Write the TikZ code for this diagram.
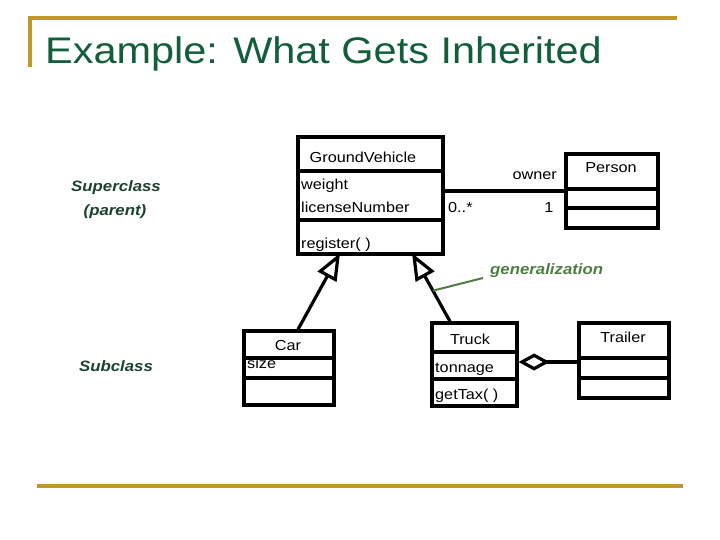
\documentclass[tikz,border=0pt]{standalone}
\usepackage{fontspec}
\setmainfont{Liberation Sans}
\newfontfamily\bxf[FakeStretch=1.12]{Liberation Sans}
\newfontfamily\ttlf[FakeStretch=1.12]{Liberation Sans}
\usetikzlibrary{arrows.meta,calc}
\definecolor{gold}{RGB}{192,152,40}
\definecolor{ttlgreen}{RGB}{18,94,58}
\definecolor{lblgreen}{RGB}{28,66,48}
\definecolor{gengreen}{RGB}{78,125,66}
\begin{document}
\begin{tikzpicture}[x=1pt,y=-1pt,
  cls/.style={draw=black,line width=3.2pt,rectangle,inner sep=0pt},
  div/.style={draw=black,line width=3.2pt},
  txt/.style={inner sep=0pt,font=\bxf\fontsize{14.5}{16}\selectfont,text=black},
  side/.style={inner sep=0pt,font=\bxf\fontsize{15}{17}\selectfont\bfseries\itshape,text=lblgreen},
  gen/.style={line width=3.2pt,-{Triangle[open,length=27pt,width=21pt]}},
  agg/.style={line width=3.2pt,{Diamond[open,length=31pt,width=17pt]}-},
  assoc/.style={line width=3.2pt},
  goldline/.style={draw=gold,line width=3.2pt}
]
\useasboundingbox (0,0) rectangle (720,540);
\fill[white] (0,0) rectangle (720,540);

% frame lines
\draw[goldline] (30,67) -- (30,18) -- (677,18);
\draw[goldline] (37,486) -- (683,486);

% title
\node[inner sep=0pt,anchor=base west,text=ttlgreen,font=\ttlf\fontsize{37}{42}\selectfont] (title) at (45,64) {Example: What Gets Inherited};

% side labels
\node[side,anchor=base] (sup) at (116,192) {Superclass};
\node[side,anchor=base] (par) at (115,215) {(parent)};
\node[side,anchor=base] (sub) at (116,371) {Subclass};

% GroundVehicle
\node[cls,minimum width=145pt,minimum height=117pt] (gv) at (370.5,195.5) {};
\draw[div] (gv.west |- 0,171) -- (gv.east |- 0,171);
\draw[div] (gv.west |- 0,220) -- (gv.east |- 0,220);
\node[txt,anchor=base] (gvn) at (363,163) {GroundVehicle};
\node[txt,anchor=base west] (gvw) at (301,190) {weight};
\node[txt,anchor=base west] (gvl) at (301,213) {licenseNumber};
\node[txt,anchor=base west] (gvr) at (301,248) {register( )};

% Person
\node[cls,minimum width=92pt,minimum height=74pt] (person) at (612,191) {};
\draw[div] (person.west |- 0,189) -- (person.east |- 0,189);
\draw[div] (person.west |- 0,208) -- (person.east |- 0,208);
\node[txt,anchor=base] (pn) at (611,173) {Person};

% association
\draw[assoc] (gv.east |- person.west) -- (person.west);
\node[txt,anchor=base west] (mult1) at (448,212) {0..*};
\node[txt,anchor=base] (mult2) at (549,212) {1};
\node[txt,anchor=base east] (own) at (557,180) {owner};

% Car
\node[cls,minimum width=90pt,minimum height=74pt] (car) at (289,368) {};
\draw[div] (car.west |- 0,358) -- (car.east |- 0,358);
\draw[div] (car.west |- 0,378) -- (car.east |- 0,378);
\node[txt,anchor=base] (carn) at (288,350) {Car};
\node[txt,anchor=base west] (cars) at (247,368) {size};

% Truck
\node[cls,minimum width=85pt,minimum height=83pt] (truck) at (474.5,364.5) {};
\draw[div] (truck.west |- 0,352) -- (truck.east |- 0,352);
\draw[div] (truck.west |- 0,379) -- (truck.east |- 0,379);
\node[txt,anchor=base] (trn) at (470,344) {Truck};
\node[txt,anchor=base west] (trt) at (435,372) {tonnage};
\node[txt,anchor=base west] (trg) at (435,399) {getTax( )};

% Trailer
\node[cls,minimum width=90pt,minimum height=75pt] (trailer) at (624,360.5) {};
\draw[div] (trailer.west |- 0,358) -- (trailer.east |- 0,358);
\draw[div] (trailer.west |- 0,378) -- (trailer.east |- 0,378);
\node[txt,anchor=base] (tln) at (623,342) {Trailer};

% aggregation
\draw[agg] ([yshift=2.5pt]truck.east) -- ([yshift=2.5pt]truck.east -| trailer.west);

% generalizations
\coordinate (cS) at ([xshift=9pt]car.north);
\coordinate (cE) at ([xshift=-30.5pt,yshift=2.5pt]gv.south);
\coordinate (tS) at ([xshift=-24.5pt]truck.north);
\coordinate (tE) at ([xshift=41.5pt,yshift=2.5pt]gv.south);
\draw[gen] (cS) -- (cE);
\draw[gen] (tS) -- (tE);

% generalization label
\node[side,anchor=base west,text=gengreen] (genl) at (490,274) {generalization};
\draw[gengreen,line width=2pt] ([shift={(-7pt,-4pt)}]genl.base west) -- ($(tS)!0.45!(tE)$);
\end{tikzpicture}
\end{document}
